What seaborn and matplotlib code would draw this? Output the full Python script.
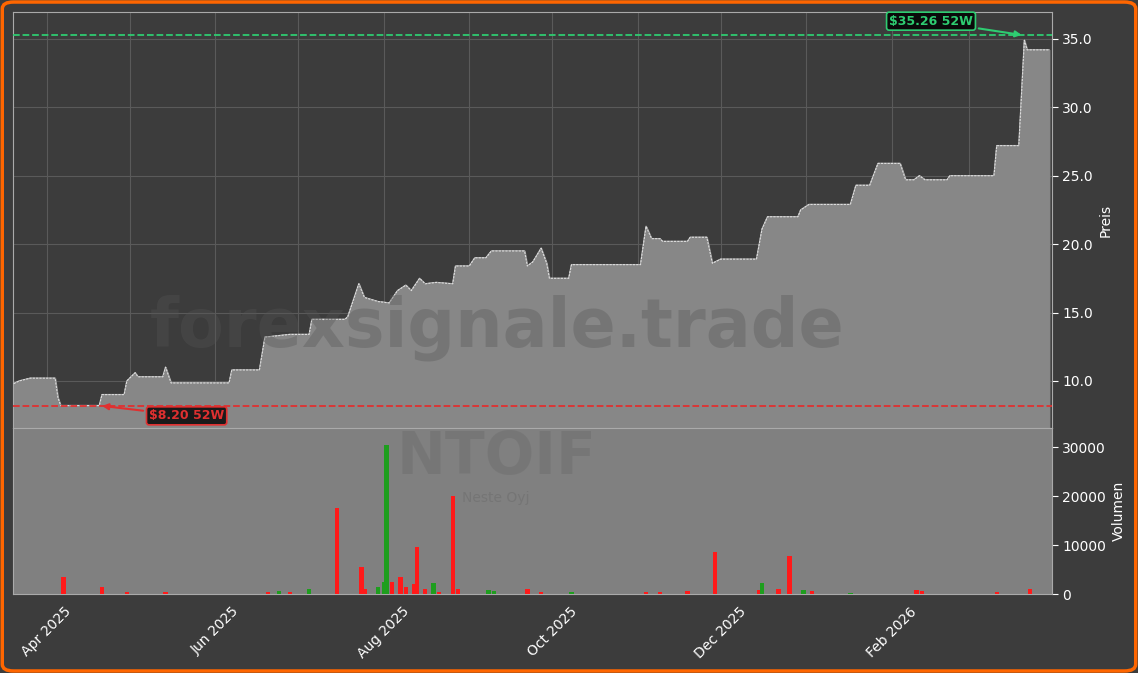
import matplotlib
matplotlib.use("Agg")
import matplotlib.pyplot as plt
import matplotlib.dates as mdates
import seaborn as sns
import pandas as pd
import numpy as np

price_dates = ["2025-03-20","2025-03-22","2025-03-26","2025-04-04","2025-04-05","2025-04-06","2025-04-20","2025-04-21",
 "2025-04-29","2025-04-30","2025-05-03","2025-05-04","2025-05-13","2025-05-14","2025-05-16","2025-06-06","2025-06-07",
 "2025-06-17","2025-06-19","2025-06-28","2025-07-05","2025-07-06","2025-07-18","2025-07-19","2025-07-23","2025-07-25",
 "2025-07-30","2025-08-03","2025-08-06","2025-08-09","2025-08-11","2025-08-14","2025-08-16","2025-08-20","2025-08-26",
 "2025-08-27","2025-09-01","2025-09-03","2025-09-07","2025-09-09","2025-09-21","2025-09-22","2025-09-24","2025-09-27",
 "2025-09-29","2025-09-30","2025-10-07","2025-10-08","2025-11-02","2025-11-04","2025-11-06","2025-11-09","2025-11-10",
 "2025-11-19","2025-11-20","2025-11-26","2025-11-28","2025-12-01","2025-12-14","2025-12-16","2025-12-18","2025-12-29",
 "2025-12-30","2026-01-02","2026-01-17","2026-01-19","2026-01-24","2026-01-27","2026-02-04","2026-02-06","2026-02-09",
 "2026-02-11","2026-02-13","2026-02-21","2026-02-22","2026-03-10","2026-03-11","2026-03-19","2026-03-21","2026-03-22",
 "2026-03-30"]
price_values = [9.8,10.0,10.2,10.2,8.8,8.2,8.2,9.0,9.0,10.0,10.6,10.3,10.3,11.0,9.85,9.85,10.8,10.8,13.2,13.4,13.4,14.5,
 14.5,14.7,17.1,16.1,15.8,15.7,16.6,17.0,16.6,17.5,17.1,17.2,17.1,18.4,18.4,19.0,19.0,19.5,19.5,18.4,18.7,19.7,18.6,
 17.5,17.5,18.5,18.5,21.3,20.4,20.4,20.2,20.2,20.5,20.5,18.6,18.9,18.9,21.1,22.0,22.0,22.5,22.9,22.9,24.3,24.3,25.9,
 25.9,24.7,24.7,25.0,24.7,24.7,25.0,25.0,27.2,27.2,34.9,34.2,34.2]

vol_dates = ["2025-04-07","2025-04-21","2025-04-30","2025-05-14","2025-06-20","2025-06-24","2025-06-28","2025-07-05",
 "2025-07-15","2025-07-24","2025-07-25","2025-07-30","2025-08-01","2025-08-02","2025-08-04","2025-08-07","2025-08-09",
 "2025-08-12","2025-08-13","2025-08-16","2025-08-19","2025-08-21","2025-08-26","2025-08-28","2025-09-08","2025-09-10",
 "2025-09-22","2025-09-27","2025-10-08","2025-11-04","2025-11-09","2025-11-19","2025-11-29","2025-12-15","2025-12-16",
 "2025-12-22","2025-12-26","2025-12-31","2026-01-03","2026-01-17","2026-02-10","2026-02-12","2026-03-11","2026-03-23"]
vol_values = [3500,1500,500,500,500,700,500,1000,17500,5500,1000,1500,2500,30500,2500,3500,1500,2000,9500,1000,2200,500,
 20000,1000,800,600,1000,400,500,400,400,600,8500,800,2200,1100,7800,900,600,300,900,600,400,1000]
vol_up = [0,0,0,0,0,1,0,1,0,0,0,1,1,1,0,0,0,0,0,0,1,0,0,0,1,1,0,0,1,0,0,0,0,0,1,0,0,1,0,1,0,0,0,0]

high_52w = 35.26
low_52w = 8.20

df = pd.DataFrame({"date": pd.to_datetime(price_dates), "price": price_values})
vdf = pd.DataFrame({"date": pd.to_datetime(vol_dates), "vol": vol_values, "up": vol_up})

sns.set_style("dark")
plt.rcParams['font.family'] = ['DejaVu Sans']
BG = "#3c3c3c"
fig = plt.figure(figsize=(11.38, 6.73), dpi=100, facecolor=BG)
fig.patches.append(matplotlib.patches.FancyBboxPatch((0.002, 0.003), 0.996, 0.994, boxstyle="round,pad=0,rounding_size=0.01",
    transform=fig.transFigure, fill=False, edgecolor="#ff6600", linewidth=2.5))
W, H = 1138, 673
ax = fig.add_axes([13/W, 1-428/H, (1052-13)/W, (428-12)/H])
ax2 = fig.add_axes([13/W, 1-594/H, (1052-13)/W, (594-428)/H], sharex=ax)

ax.set_facecolor(BG)
ax2.set_facecolor("#808080")
sns.lineplot(data=df, x="date", y="price", ax=ax, color="#bbbbbb", linewidth=1)
ax.fill_between(df["date"], df["price"], 0, color="#878787", alpha=1, zorder=2)
ax.plot(df["date"], df["price"], color="#dddddd", linewidth=0.8, linestyle=(0, (2, 1)), zorder=3)
ax.set_ylim(6.56, 36.97)
xmin, xmax = pd.Timestamp("2025-03-19 18:00"), pd.Timestamp("2026-03-31")
ax.set_xlim(xmin, xmax)

ax.axhline(high_52w, color="#2ecc71", linestyle="--", linewidth=1.3, zorder=4)
ax.axhline(low_52w, color="#e03030", linestyle="--", linewidth=1.3, zorder=4)
ax.annotate(f"${high_52w:.2f} 52W", xy=(pd.Timestamp("2026-03-21"), high_52w), xytext=(pd.Timestamp("2026-01-31"), 36.3),
    color="#2ecc71", fontsize=9, fontweight="bold", va="center",
    bbox=dict(boxstyle="round,pad=0.2", fc="#0a0a0a", ec="#2ecc71", lw=1.2),
    arrowprops=dict(arrowstyle="-|>", color="#2ecc71", lw=1.5), zorder=6)
ax.annotate(f"${low_52w:.2f} 52W", xy=(pd.Timestamp("2025-04-20"), low_52w), xytext=(pd.Timestamp("2025-05-08"), 7.45),
    color="#e03030", fontsize=9, fontweight="bold", va="center",
    bbox=dict(boxstyle="round,pad=0.2", fc="#1a1a1a", ec="#e03030", lw=1.2),
    arrowprops=dict(arrowstyle="-|>", color="#e03030", lw=1.5), zorder=6)

colors = ["#1e9e1e" if u else "#ff1a1a" for u in vdf["up"]]
ax2.bar(vdf["date"], vdf["vol"], width=1.6, color=colors, linewidth=0, zorder=3)
ax2.set_ylim(0, 33878)
ax2.set_yticks([0, 10000, 20000, 30000])

for a in (ax, ax2):
    a.yaxis.tick_right()
    a.yaxis.set_label_position("right")
    a.tick_params(colors="white", labelsize=10, length=4)
    for s in a.spines.values():
        s.set_color("#aaaaaa")
    a.xaxis.set_major_locator(mdates.MonthLocator(bymonth=[2,4,6,8,10,12]))
    a.xaxis.set_minor_locator(mdates.MonthLocator())
ax.grid(True, which="both", axis="x", color="#5a5a5a", linewidth=0.8)
ax2.grid(False)
ax.grid(True, axis="y", color="#5a5a5a", linewidth=0.8)
ax.set_axisbelow(True)
ax.set_yticks([10, 15, 20, 25, 30, 35])
ax.yaxis.set_major_formatter(matplotlib.ticker.FormatStrFormatter("%.1f"))
ax.set_ylabel("Preis", color="white")
ax2.set_ylabel("Volumen", color="white")
ax.set_xlabel(""); ax2.set_xlabel("")
ax.tick_params(axis="x", labelbottom=False, length=0)
ax2.xaxis.set_major_formatter(mdates.DateFormatter("%b %Y"))
plt.setp(ax2.get_xticklabels(), rotation=45, ha="center")

ax.text(0.466, 0.24, "forexsignale.trade", transform=ax.transAxes, ha="center", va="center",
        fontsize=48, fontweight="bold", color="#555555", alpha=0.35, zorder=5)
ax2.text(0.465, 0.82, "NTOIF", transform=ax2.transAxes, ha="center", va="center",
         fontsize=42, fontweight="bold", color="#6e6e6e", alpha=0.5, zorder=1)
ax2.text(0.465, 0.58, "Neste Oyj", transform=ax2.transAxes, ha="center", va="center",
         fontsize=10, color="#6e6e6e", alpha=0.6, zorder=1)

fig.savefig("out.png", dpi=100, facecolor=BG)
